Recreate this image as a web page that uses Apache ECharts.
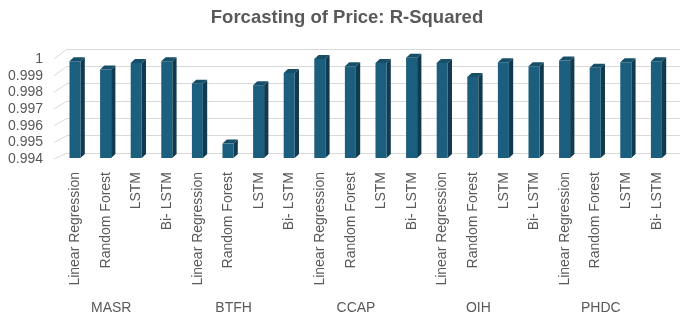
<!DOCTYPE html>
<html>
<head>
<meta charset="utf-8">
<script src="https://cdn.jsdelivr.net/npm/echarts@6/dist/echarts.min.js"></script>
<style>
html,body{margin:0;padding:0;background:#fff;}
#chart{width:685px;height:316px;}
</style>
</head>
<body>
<div id="chart"></div>
<script>
const groups = ['MASR', 'BTFH', 'CCAP', 'OIH', 'PHDC'];
const models = ['Linear Regression', 'Random Forest', 'LSTM', 'Bi- LSTM'];
const masr = [0.99958, 0.99910, 0.99948, 0.99958];
const btfh = [0.99829, 0.99483, 0.99820, 0.99891];
const ccap = [0.99971, 0.99929, 0.99948, 0.99979];
const oih  = [0.99948, 0.99868, 0.99952, 0.99929];
const phdc = [0.99962, 0.99920, 0.99952, 0.99958];
const yTicks = [0.994, 0.995, 0.996, 0.997, 0.998, 0.999, 1];
const yMin = 0.994, yMax = 1, yStep = 0.001;

const allValues = [masr, btfh, ccap, oih, phdc];
const categories = [];
const barData = [];
groups.forEach((g, gi) => {
  models.forEach((m, mi) => {
    categories.push(m);
    barData.push([categories.length - 1, allValues[gi][mi]]);
  });
});

const FONT = "'Liberation Sans', Arial, sans-serif";
const TXT = '#595959';
const GRIDC = '#d9d9d9';

function renderBar(params, api) {
  const i = api.value(0), v = api.value(1);
  const top = api.coord([i, v]);
  const base = api.coord([i, yMin]);
  const band = api.size([1, 0])[0];
  const w = band * 0.36;
  const dx = band * 0.14;
  const dy = 4;
  const x0 = top[0] - w / 2 - 0.3;
  const x1 = x0 + w;
  const yt = top[1], yb = base[1];
  return {
    type: 'group',
    children: [
      { type: 'polygon', shape: { points: [[x1, yt], [x1 + dx, yt - dy], [x1 + dx, yb - dy], [x1, yb]] },
        style: { fill: '#0f3a4f' } },
      { type: 'polygon', shape: { points: [[x0, yt], [x0 + dx, yt - dy], [x1 + dx, yt - dy], [x1, yt]] },
        style: { fill: '#174f69' } },
      { type: 'rect', shape: { x: x0, y: yt, width: w, height: yb - yt },
        style: { fill: '#1c5e7d' } }
    ]
  };
}

const chart = echarts.init(document.getElementById('chart'), null, { renderer: 'canvas' });
chart.setOption({
  animation: false,
  backgroundColor: '#ffffff',
  title: {
    text: 'Forcasting of Price: R-Squared',
    left: 342,
    textAlign: 'center',
    top: 3,
    textStyle: { fontFamily: FONT, fontSize: 18.5, fontWeight: 'bold', color: TXT }
  },
  grid: [
    { left: 60, right: 13, top: 54, bottom: 158 },
    { left: 67, right: 5, top: 49, bottom: 163 },
    { left: 60, right: 13, top: 59, bottom: 157 }
  ],
  xAxis: [
    {
      type: 'category', gridIndex: 0, data: categories,
      axisLine: { show: false }, axisTick: { show: false },
      axisLabel: { rotate: 90, interval: 0, margin: 14, fontFamily: FONT, fontSize: 14, color: TXT }
    },
    {
      type: 'category', gridIndex: 0, data: groups, position: 'bottom', offset: 135,
      axisLine: { show: false }, axisTick: { show: false },
      axisLabel: { interval: 0, margin: 8, fontFamily: FONT, fontSize: 14, color: TXT, padding: [0, 20, 0, 0] }
    },
    { type: 'category', gridIndex: 1, data: categories, show: false },
    { type: 'category', gridIndex: 2, data: categories, show: false }
  ],
  yAxis: [
    {
      type: 'value', gridIndex: 0, min: yMin, max: yMax, interval: yStep,
      axisLine: { show: false }, axisTick: { show: false }, splitLine: { show: false },
      axisLabel: { show: false }
    },
    {
      type: 'value', gridIndex: 1, min: yMin, max: yMax, interval: yStep,
      axisLine: { show: false }, axisTick: { show: false }, axisLabel: { show: false },
      splitLine: { show: true, lineStyle: { color: GRIDC, width: 1 } }
    },
    {
      type: 'value', gridIndex: 2, min: yMin, max: yMax, interval: yStep,
      axisLine: { show: false }, axisTick: { show: false }, splitLine: { show: false },
      axisLabel: {
        margin: 17, fontFamily: FONT, fontSize: 14, color: TXT,
        formatter: v => String(parseFloat(v.toFixed(3)))
      }
    }
  ],
  series: [
    {
      type: 'custom', xAxisIndex: 0, yAxisIndex: 0,
      renderItem: renderBar,
      data: barData,
      encode: { x: 0, y: 1 },
      z: 5
    }
  ]
});

// Connector diagonals from the front (label) plane to the back-wall gridlines
const frontX = chart.convertToPixel({ xAxisIndex: 3 }, 0) - (chart.convertToPixel({ xAxisIndex: 3 }, 1) - chart.convertToPixel({ xAxisIndex: 3 }, 0)) / 2;
const backX = chart.convertToPixel({ xAxisIndex: 2 }, 0) - (chart.convertToPixel({ xAxisIndex: 2 }, 1) - chart.convertToPixel({ xAxisIndex: 2 }, 0)) / 2;
const diag = yTicks.map(t => ({
  type: 'line',
  silent: true,
  z: 1,
  shape: {
    x1: frontX - 6, y1: chart.convertToPixel({ yAxisIndex: 2 }, t),
    x2: backX, y2: chart.convertToPixel({ yAxisIndex: 1 }, t)
  },
  style: { stroke: GRIDC, lineWidth: 1 }
}));
chart.setOption({ graphic: diag });
</script>
</body>
</html>
